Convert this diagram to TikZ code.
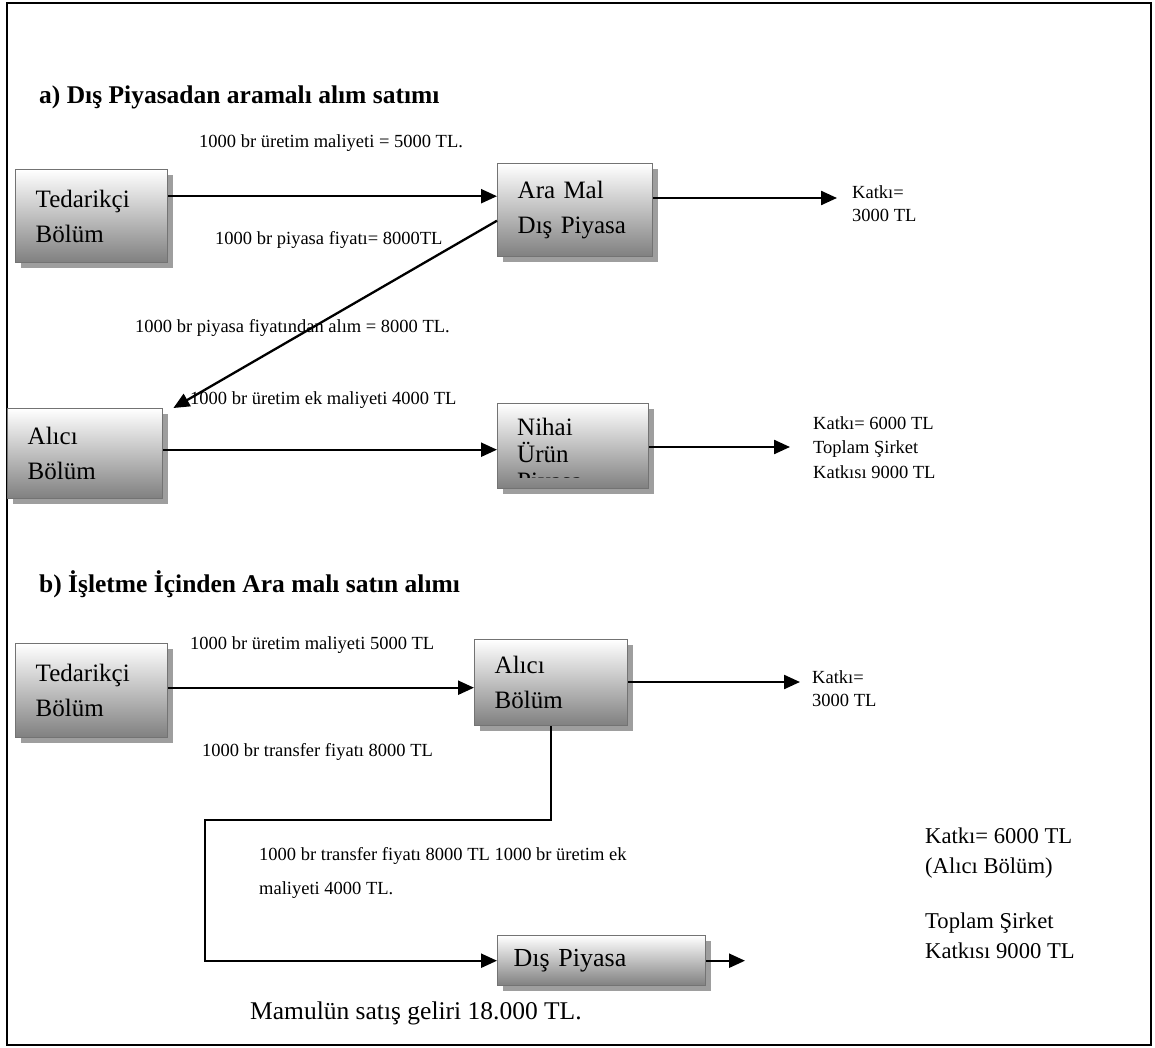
\documentclass[tikz,border=0pt]{standalone}
\usepackage{fontspec}
\setmainfont{Liberation Serif}
\usetikzlibrary{arrows.meta,shadows}
\newcommand\boxfnt{\fontsize{25}{35}\selectfont}
\newcommand\lblfnt{\fontsize{18.5}{23}\selectfont}
\begin{document}
\begin{tikzpicture}[x=1pt,y=-1pt,
  box/.style={draw=black!55, line width=1.4pt, top color=white, bottom color=black!50,
    drop shadow={shadow xshift=5pt, shadow yshift=-5pt, fill=black!38, opacity=1},
    anchor=north west, inner xsep=20pt, inner ysep=0pt, align=left, font=\boxfnt},
  arr/.style={line width=2.3pt, -{Triangle[length=16pt,width=14pt]}},
  lbl/.style={anchor=west, inner sep=0pt, font=\lblfnt},
  txt/.style={anchor=north west, inner sep=0pt, align=left},
  head/.style={anchor=west, inner sep=0pt, font=\bfseries\fontsize{25.5}{30}\selectfont}]
\useasboundingbox (0,0) rectangle (1155,1048);
\fill[white] (0,0) rectangle (1155,1048);
\draw[line width=1.5pt] (7,3) rectangle (1151,1045);

% headings
\node[head] (ha) at (39,97) {a) Dış Piyasadan aramalı alım satımı};
\node[head] (hb) at (39,584) {b) İşletme İçinden Ara malı satın alımı};

% labels
\node[lbl] (l1) at (199,143) {1000 br üretim maliyeti = 5000 TL.};
\node[lbl] (l2) at (215,240) {1000 br piyasa fiyatı= 8000TL};
\node[lbl] (l3) at (135,328) {1000 br piyasa fiyatından alım = 8000 TL.};
\node[lbl] (l4) at (190,400) {1000 br üretim ek maliyeti 4000 TL};
\node[lbl] (l5) at (190,645) {1000 br üretim maliyeti 5000 TL};
\node[lbl] (l6) at (202,752) {1000 br transfer fiyatı 8000 TL};
\node[txt, font=\fontsize{18.5}{34}\selectfont] (l7) at (259,847)
  {1000 br transfer fiyatı 8000 TL 1000 br üretim ek\\maliyeti 4000 TL.};
\node[anchor=west, inner sep=0pt, font=\fontsize{25.5}{30}\selectfont] (mam) at (250,1013)
  {Mamulün satış geliri 18.000 TL.};

\node[txt, font=\fontsize{18.5}{23}\selectfont] (k1) at (852,185) {Katkı=\\3000 TL};
\node[txt, font=\fontsize{18.5}{24.5}\selectfont] (k2) at (813,416)
  {Katkı= 6000 TL\\Toplam Şirket\\Katkısı 9000 TL};
\node[txt, font=\fontsize{18.5}{23}\selectfont] (k3) at (812,670) {Katkı=\\3000 TL};
\node[txt, font=\fontsize{22.6}{30}\selectfont] (k4) at (925,828)
  {Katkı= 6000 TL\\(Alıcı Bölüm)\\[25pt]Toplam Şirket\\Katkısı 9000 TL};

% boxes
\node[box, text width=112pt, minimum height=93pt] (Ta) at (15,169) {Tedarikçi\\Bölüm};
\node[box, text width=115pt, minimum height=93pt] (Aa) at (497,163) {Ara Mal\\Dış Piyasa};
\node[box, text width=115pt, minimum height=90pt] (La) at (7,408) {Alıcı\\Bölüm};
\node[box, text width=111pt, minimum height=85pt] (Na) at (497,403) {};
\begin{scope}
  \clip (Na.north west) rectangle ([yshift=12pt]Na.south east);
  \node[txt, font=\fontsize{25}{27}\selectfont] (Nt) at ([xshift=20pt,yshift=-15pt]Na.north west)
    {Nihai\\Ürün\\Piyasa};
\end{scope}
\node[box, text width=112pt, minimum height=94pt] (Tb) at (15,643) {Tedarikçi\\Bölüm};
\node[box, text width=113pt, minimum height=86pt] (Lb) at (474,639) {Alıcı\\Bölüm};
\node[box, inner xsep=16pt, text width=176pt, minimum height=50pt, font=\fontsize{26}{30}\selectfont] (Db) at (497,935) {Dış Piyasa};

% free ends
\coordinate (t1) at (837,198);
\coordinate (t2) at (790,447);
\coordinate (t3) at (800,682);
\coordinate (bend) at (205,820);
\coordinate (t4) at (745,960);

% connectors
\draw[arr] ([yshift=20pt]Ta.east) -- ([yshift=20pt]Ta.east -| Aa.west);
\draw[arr] (Aa.east |- t1) -- (t1);
\draw[arr] ([yshift=-10.5pt]Aa.west) -- ([xshift=10pt]La.north east);
\draw[arr] ([yshift=4pt]La.east) -- ([yshift=4pt]La.east -| Na.west);
\draw[arr] (Na.east |- t2) -- (t2);
\draw[arr] ([yshift=3pt]Tb.east) -- ([yshift=3pt]Tb.east -| Lb.west);
\draw[arr] (Lb.east |- t3) -- (t3);
\draw[arr] (Lb.south) |- (bend) |- (Db.west);
\draw[arr] (Db.east) -- (Db.east -| t4);
\end{tikzpicture}
\end{document}
